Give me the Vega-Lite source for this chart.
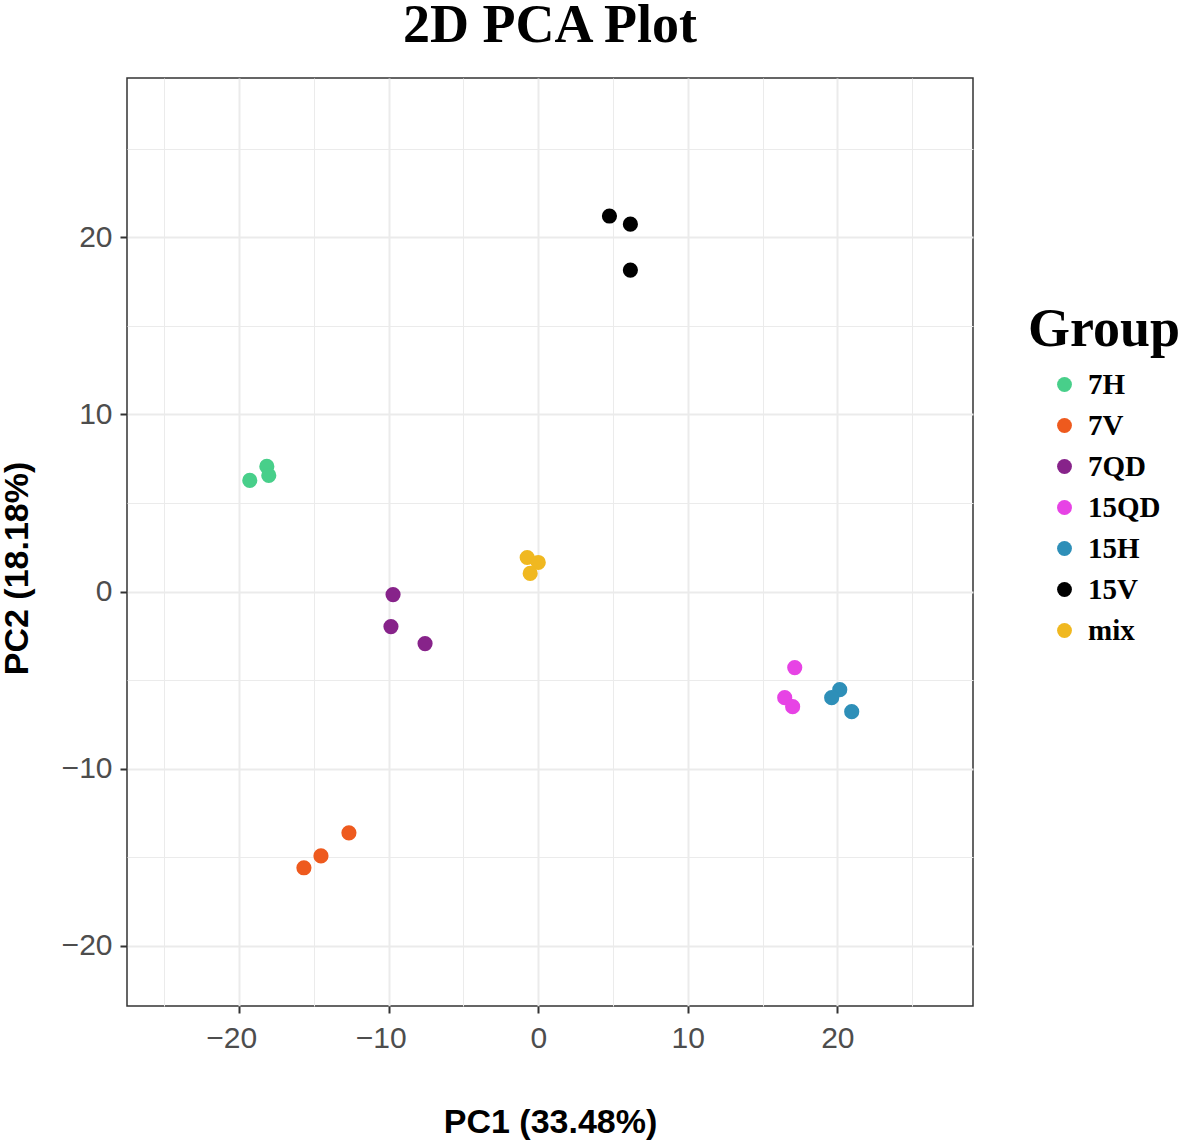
{
  "$schema": "https://vega.github.io/schema/vega-lite/v6.json",
  "width": 846,
  "height": 928,
  "autosize": {"type": "none"},
  "padding": {"left": 127, "top": 78, "right": 206, "bottom": 138},
  "background": "white",
  "title": {
    "text": "2D PCA Plot",
    "font": "Liberation Serif",
    "fontSize": 54,
    "fontWeight": "bold",
    "color": "black",
    "anchor": "middle",
    "offset": 25
  },
  "config": {
    "view": {"stroke": "#333333", "strokeWidth": 1.5},
    "axis": {
      "labelFont": "Liberation Sans",
      "labelFontSize": 30,
      "labelColor": "#4d4d4d",
      "titleFont": "Liberation Sans",
      "titleFontSize": 34,
      "titleFontWeight": "bold",
      "titleColor": "black",
      "domain": false,
      "tickColor": "#333333",
      "tickWidth": 2,
      "tickSize": 7,
      "gridColor": "#ebebeb"
    }
  },
  "data": {
    "values": [
      {"PC1": -19.29, "PC2": 6.27, "Group": "7H"},
      {"PC1": -18.15, "PC2": 7.06, "Group": "7H"},
      {"PC1": -18.02, "PC2": 6.55, "Group": "7H"},
      {"PC1": -12.66, "PC2": -13.62, "Group": "7V"},
      {"PC1": -14.53, "PC2": -14.92, "Group": "7V"},
      {"PC1": -15.67, "PC2": -15.59, "Group": "7V"},
      {"PC1": -9.71, "PC2": -0.17, "Group": "7QD"},
      {"PC1": -9.85, "PC2": -1.98, "Group": "7QD"},
      {"PC1": -7.57, "PC2": -2.94, "Group": "7QD"},
      {"PC1": 17.15, "PC2": -4.29, "Group": "15QD"},
      {"PC1": 16.48, "PC2": -5.99, "Group": "15QD"},
      {"PC1": 17.01, "PC2": -6.5, "Group": "15QD"},
      {"PC1": 20.16, "PC2": -5.54, "Group": "15H"},
      {"PC1": 19.62, "PC2": -5.99, "Group": "15H"},
      {"PC1": 20.96, "PC2": -6.78, "Group": "15H"},
      {"PC1": 4.76, "PC2": 21.19, "Group": "15V"},
      {"PC1": 6.16, "PC2": 20.73, "Group": "15V"},
      {"PC1": 6.16, "PC2": 18.14, "Group": "15V"},
      {"PC1": -0.74, "PC2": 1.92, "Group": "mix"},
      {"PC1": 0.0, "PC2": 1.64, "Group": "mix"},
      {"PC1": -0.54, "PC2": 1.02, "Group": "mix"}
    ]
  },
  "mark": {"type": "circle", "size": 230, "opacity": 1},
  "encoding": {
    "x": {
      "field": "PC1",
      "type": "quantitative",
      "title": "PC1 (33.48%)",
      "scale": {"domain": [-27.5, 29.07], "nice": false, "zero": false},
      "axis": {
        "values": [-25, -20, -15, -10, -5, 0, 5, 10, 15, 20, 25],
        "labelExpr": "datum.value % 10 === 0 ? datum.label : ''",
        "gridWidth": {"condition": {"test": "datum.value % 10 === 0", "value": 2}, "value": 1},
        "tickOpacity": {"condition": {"test": "datum.value % 10 === 0", "value": 1}, "value": 0},
        "labelOffset": {"condition": {"test": "datum.value < 0", "value": -8}, "value": 0},
        "labelPadding": 10,
        "titlePadding": 52
      }
    },
    "y": {
      "field": "PC2",
      "type": "quantitative",
      "title": "PC2 (18.18%)",
      "scale": {"domain": [-23.39, 28.98], "nice": false, "zero": false},
      "axis": {
        "values": [-20, -15, -10, -5, 0, 5, 10, 15, 20, 25],
        "labelExpr": "datum.value % 10 === 0 ? datum.label : ''",
        "gridWidth": {"condition": {"test": "datum.value % 10 === 0", "value": 2}, "value": 1},
        "tickOpacity": {"condition": {"test": "datum.value % 10 === 0", "value": 1}, "value": 0},
        "labelPadding": 8,
        "titlePadding": 27,
        "titleY": 490
      }
    },
    "color": {
      "field": "Group",
      "type": "nominal",
      "scale": {
        "domain": ["7H", "7V", "7QD", "15QD", "15H", "15V", "mix"],
        "range": ["#48CF8A", "#EE5A1E", "#87238A", "#E743E5", "#2E8FB8", "#000000", "#F0B820"]
      },
      "legend": {
        "orient": "none",
        "legendX": 901,
        "legendY": 225,
        "padding": 0,
        "title": "Group",
        "titleFont": "Liberation Serif",
        "titleFontSize": 54,
        "titleFontWeight": "bold",
        "titleColor": "black",
        "titlePadding": 13,
        "labelFont": "Liberation Serif",
        "labelFontSize": 29,
        "labelFontWeight": "bold",
        "labelColor": "black",
        "symbolType": "circle",
        "symbolSize": 220,
        "symbolOpacity": 1,
        "symbolStrokeWidth": 0,
        "symbolOffset": 22,
        "labelOffset": 9,
        "rowPadding": 11
      }
    }
  }
}
